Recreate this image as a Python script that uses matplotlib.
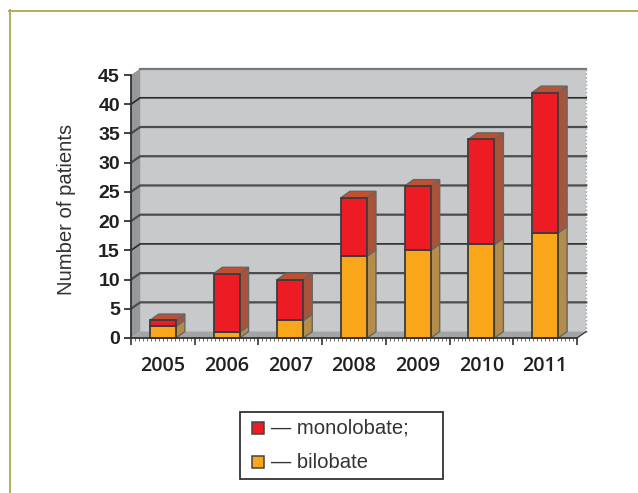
"""Stacked pseudo-3D column chart of patients per year, monolobate vs bilobate."""
import matplotlib
matplotlib.use("Agg")
import matplotlib.pyplot as plt
from matplotlib.lines import Line2D
from matplotlib.patches import Polygon, Rectangle

years = ["2005", "2006", "2007", "2008", "2009", "2010", "2011"]
bilobate = [2, 1, 3, 14, 15, 16, 18]
monolobate = [1, 10, 7, 10, 11, 18, 24]
y_ticks = list(range(0, 50, 5))

W, H = 638, 493
# depth of the fake 3D box, in axis units
DX, DY = 0.145, 1.1
BAR_W = 0.41
BAR_DX, BAR_DY = 0.14, 1.1

RED, RED_SIDE, RED_TOP = "#ed1c24", "#a9533b", "#c0502f"
ORANGE, ORANGE_SIDE, ORANGE_TOP = "#faa61a", "#b58d4a", "#c0902f"
EDGE = "#3c3c3c"


def poly(ax, pts, color, z, edge="none", lw=0):
    ax.add_patch(Polygon(pts, closed=True, facecolor=color, edgecolor=edge,
                         linewidth=lw, zorder=z, clip_on=False))


def draw_segment(ax, x, low, high, front, side, top, z):
    left, right = x - BAR_W / 2, x + BAR_W / 2
    poly(ax, [(right, low), (right + BAR_DX, low + BAR_DY),
              (right + BAR_DX, high + BAR_DY), (right, high)], side, z, "#666666", 1.0)
    poly(ax, [(left, high), (right, high), (right + BAR_DX, high + BAR_DY),
              (left + BAR_DX, high + BAR_DY)], top, z, "#666666", 1.0)
    ax.bar(x, high - low, BAR_W, bottom=low, color=front, edgecolor=EDGE,
           linewidth=1.3, zorder=z + 0.5, clip_on=False)


fig = plt.figure(figsize=(W / 100, H / 100), dpi=100, facecolor="white")
ax = fig.add_axes([131 / W, 1 - 338 / H, 446 / W, 263 / H])
ax.set_xlim(0, len(years))
ax.set_ylim(0, 45)
ax.patch.set_visible(False)

# walls and floor
n = len(years)
poly(ax, [(DX, DY), (n + DX, DY), (n + DX, 45 + DY), (DX, 45 + DY)], "#c8c9cb", 1)
poly(ax, [(0, 0), (DX, DY), (DX, 45 + DY), (0, 45)], "#97989a", 1.1)
poly(ax, [(0, 0), (n, 0), (n + DX, DY), (DX, DY)], "#a3a4a6", 1.1)
ax.plot([DX, n + DX], [45 + DY, 45 + DY], color="#77787a", lw=1.6, zorder=1.2, clip_on=False)
ax.plot([n + DX, n + DX], [DY, 45 + DY], color="#9a9b9d", lw=1.0, ls=":", zorder=1.2, clip_on=False)
ax.plot([n, n + DX], [0, DY], color="#333333", lw=0.9, zorder=1.2, clip_on=False)

# gridlines run along the back wall and down the left wall
for i, v in enumerate(y_ticks[1:-1]):
    shade = "#2b2b2b" if v in (40, 15) else "#4c4c4c"
    ax.plot([0, DX, n + DX], [v, v + DY, v + DY], color=shade,
            lw=1.2 if v in (40, 15) else 1.6, zorder=1.3, clip_on=False)

# columns, left to right so nearer faces overlap correctly
for i in range(n):
    x = i + 0.5
    total = bilobate[i] + monolobate[i]
    draw_segment(ax, x, 0, bilobate[i], ORANGE, ORANGE_SIDE, ORANGE_TOP, 3)
    draw_segment(ax, x, bilobate[i], total, RED, RED_SIDE, RED_TOP, 4)

for s in ("top", "right"):
    ax.spines[s].set_visible(False)
for s in ("left", "bottom"):
    ax.spines[s].set_color("#333333")
    ax.spines[s].set_linewidth(1.3)
    ax.spines[s].set_zorder(5)

ax.set_yticks(y_ticks)
ax.set_yticklabels([str(v) for v in y_ticks], fontfamily="Liberation Sans",
                   fontsize=14, fontweight="bold", color="#231f20")
ax.tick_params(axis="y", length=5, width=1.3, color="#333333", pad=3)
ax.set_xticks(range(n + 1))
ax.set_xticklabels([""] * (n + 1))
ax.set_xticks([i / 16 for i in range(16 * n + 1)], minor=True)
ax.tick_params(axis="x", which="major", length=5, width=1.2, color="#333333")
ax.tick_params(axis="x", which="minor", length=2, width=0.6, color="#555555")
for i, label in enumerate(years):
    ax.annotate(label, (i + 0.5, 0), xytext=(0, -20), textcoords="offset points",
                ha="center", va="center", fontfamily="Open Sans", fontweight="semibold",
                fontsize=14.2, color="#231f20", annotation_clip=False)
fig.text(66 / W, 1 - 209 / H, "Number of patients", rotation=90, ha="center", va="center",
         fontfamily="Liberation Sans", fontsize=14.6, color="#333333")


def px(x, y):
    return x / W, 1 - y / H


# page frame
frame = "#b5ac62"
fig.add_artist(Line2D([9 / W, 1], [1 - 10.5 / H] * 2, color=frame, lw=1.4))
fig.add_artist(Line2D([10 / W] * 2, [0, 1 - 10 / H], color=frame, lw=1.4))

# legend box
fig.add_artist(Rectangle(px(240, 479), 203 / W, 67 / H, facecolor="white",
                         edgecolor="#333333", lw=1.3, transform=fig.transFigure))
for cy, color, label in ((428, RED, "monolobate;"), (462, ORANGE, "bilobate")):
    fig.add_artist(Rectangle(px(252, cy + 6), 12 / W, 12 / H, facecolor=color,
                             edgecolor="#444444", lw=1.1, transform=fig.transFigure))
    fig.text(271 / W, 1 - cy / H, "\u2014 " + label, ha="left", va="center",
             fontfamily="Liberation Sans", fontsize=14.6, color="#333333")

fig.savefig("out.png", dpi=100)
